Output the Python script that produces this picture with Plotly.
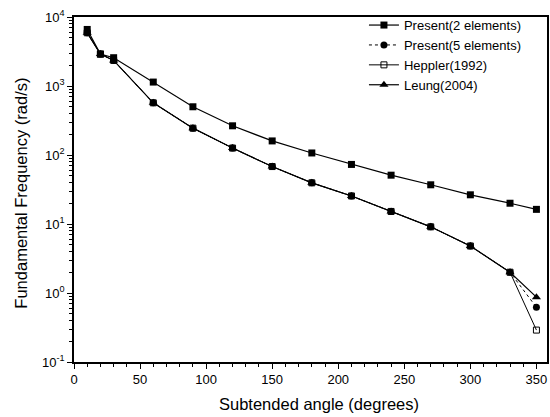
import plotly.graph_objects as go

angles = [10, 20, 30, 60, 90, 120, 150, 180, 210, 240, 270, 300, 330, 350]
present2 = [6600, 2900, 2570, 1140, 500, 265, 160, 107, 73, 51, 37, 26.5, 20, 16.3]
present5 = [5900, 2900, 2350, 570, 245, 126, 68, 39.5, 25.5, 15.2, 9.1, 4.8, 2.0, 0.62]
heppler = [5900, 2900, 2350, 570, 245, 126, 68, 39.5, 25.5, 15.2, 9.1, 4.8, 2.0, 0.29]
leung = [5900, 2900, 2350, 570, 245, 126, 68, 39.5, 25.5, 15.2, 9.1, 4.8, 2.0, 0.87]

ytick_vals = [0.1, 1, 10, 100, 1000, 10000]
ytick_text = ["10<sup>-1</sup>", "10<sup>0</sup>", "10<sup>1</sup>", "10<sup>2</sup>", "10<sup>3</sup>", "10<sup>4</sup>"]
xtick_vals = [0, 50, 100, 150, 200, 250, 300, 350]

x_title = "Subtended angle (degrees)"
y_title = "Fundamental Frequency (rad/s)"

FONT = "Liberation Sans, Arial, sans-serif"

fig = go.Figure()
fig.add_trace(go.Scatter(x=angles, y=present2, name="Present(2 elements)", mode="lines+markers",
                         line=dict(color="black", width=1.2),
                         marker=dict(symbol="square", size=7, color="black")))
fig.add_trace(go.Scatter(x=angles, y=present5, name="Present(5 elements)", mode="lines+markers",
                         line=dict(color="black", width=1, dash="dot"),
                         marker=dict(symbol="circle", size=7, color="black")))
fig.add_trace(go.Scatter(x=angles, y=heppler, name="Heppler(1992)", mode="lines+markers",
                         line=dict(color="black", width=1),
                         marker=dict(symbol="square-open", size=6, color="black", line=dict(width=1))))
fig.add_trace(go.Scatter(x=angles, y=leung, name="Leung(2004)", mode="lines+markers",
                         line=dict(color="black", width=1.2),
                         marker=dict(symbol="triangle-up", size=8, color="black")))

minor_y = [m * 10 ** e for e in range(-1, 4) for m in range(2, 10)]

fig.update_layout(
    width=550, height=417,
    margin=dict(l=74, r=1, t=17, b=55),
    paper_bgcolor="white", plot_bgcolor="white",
    font=dict(family=FONT, color="black", size=13),
    legend=dict(x=0.613, y=1.02, xanchor="left", yanchor="top", bgcolor="rgba(0,0,0,0)",
                font=dict(size=13, family=FONT), tracegroupgap=0),
    showlegend=True,
    annotations=[
        dict(text=x_title, xref="paper", yref="paper", x=0.518, y=0, xanchor="center",
             yanchor="middle", yshift=-42, showarrow=False, font=dict(size=16.5, family=FONT)),
        dict(text=y_title, xref="paper", yref="paper", x=0, y=0.488, xanchor="center",
             yanchor="middle", xshift=-53, textangle=-90, showarrow=False,
             font=dict(size=16.5, family=FONT)),
    ],
)
fig.update_xaxes(range=[0, 358], tickmode="array", tickvals=xtick_vals,
                 ticks="outside", ticklen=5, tickwidth=1, tickcolor="black",
                 minor=dict(dtick=10, ticks="outside", ticklen=3, tickcolor="black"),
                 showline=True, linecolor="black", linewidth=1.5, mirror=True,
                 showgrid=False, zeroline=False,
                 tickfont=dict(size=13))
fig.update_yaxes(type="log", range=[-1, 4], tickmode="array", tickvals=ytick_vals, ticktext=ytick_text,
                 ticks="outside", ticklen=5, tickwidth=1, tickcolor="black",
                 minor=dict(tickmode="array", tickvals=minor_y, ticks="outside", ticklen=3, tickcolor="black"),
                 showline=True, linecolor="black", linewidth=1.5, mirror=True,
                 showgrid=False, zeroline=False,
                 tickfont=dict(size=13))

fig.write_html("out.html", config={"displayModeBar": False},
               post_script="document.body.style.margin='0';")
